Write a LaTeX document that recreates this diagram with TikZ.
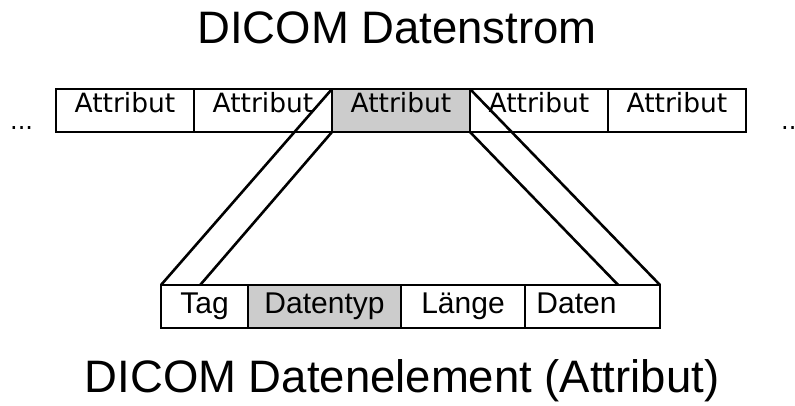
\documentclass[tikz,border=0pt]{standalone}
\usepackage{fontspec}
\setmainfont{Liberation Sans}
\newfontfamily\boxfont{DejaVu Sans}
\usetikzlibrary{positioning,calc}
\tikzset{
	attr/.style={
			draw, line width=2.6pt, outer sep=0pt, inner sep=0pt,
			minimum width=138pt, minimum height=43pt,
			font=\boxfont\fontsize{26.5}{26.5}\selectfont,
			text height=18pt, text depth=15pt
		},
	field/.style={
			draw, line width=2.6pt, outer sep=0pt, inner sep=0pt,
			minimum height=43pt,
			font=\fontsize{30}{30}\selectfont,
			text height=22pt, text depth=9pt
		},
	marked/.style={fill=black!20},
	title/.style={font=\fontsize{45.5}{45.5}\selectfont},
	dots/.style={font=\boxfont\fontsize{24}{24}\selectfont}
}

\begin{document}
\begin{tikzpicture}[x=1pt, y=-1pt]
			\useasboundingbox (0,0) rectangle (795,405);

			% Titles
			\node[title, anchor=base] (strom) at (397,43) {DICOM Datenstrom};
			\node[title, anchor=base] (element) at (402,392) {DICOM Datenelement (Attribut)};

			% Draw the data stream
			\node[attr, anchor=north west] (a1) at (56,89) {Attribut};
			\node[attr, right=0pt of a1] (a2) {Attribut};
			\node[attr, marked, right=0pt of a2] (a3) {Attribut};
			\node[attr, right=0pt of a3] (a4) {Attribut};
			\node[attr, right=0pt of a4] (a5) {Attribut};
			\node[dots, anchor=base west, inner sep=0pt] (dl) at (10,129) {...};
			\node[dots, anchor=base west, inner sep=0pt] (dr) at (781,129) {...};

			% Draw the data element
			\node[field, minimum width=87pt, anchor=north west] (tag) at (161,285) {Tag};
			\node[field, marked, minimum width=153pt, right=0pt of tag] (typ) {Datentyp};
			\node[field, minimum width=124pt, right=0pt of typ] (len) {Länge};
			\node[field, minimum width=135pt, right=0pt of len] (dat) {Daten\hspace*{32pt}};

			% Zoom lines
			\draw[line width=2.6pt] (a3.north west) -- (tag.north west);
			\draw[line width=2.6pt] (a3.south west) -- ($(tag.north west)!0.45!(tag.north east)$);
			\draw[line width=2.6pt] (a3.north east) -- (dat.north east);
			\draw[line width=2.6pt] (a3.south east) -- ($(dat.north west)!0.69!(dat.north east)$);

		\end{tikzpicture}
\end{document}
